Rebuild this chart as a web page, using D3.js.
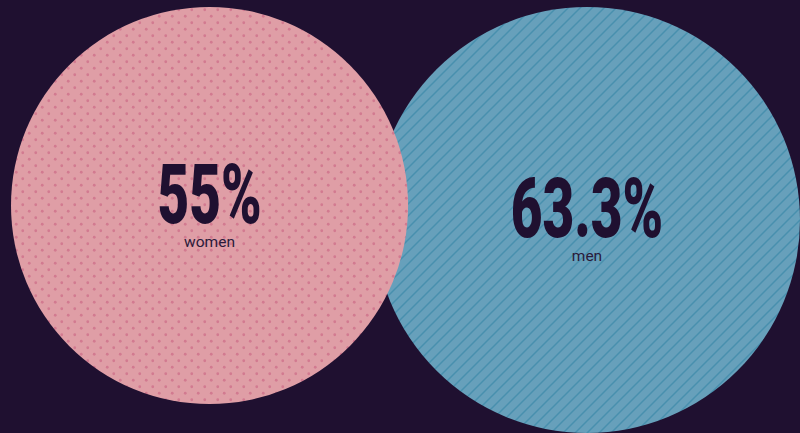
<!DOCTYPE html>
<html>
<head>
<meta charset="utf-8">
<script src="https://cdn.jsdelivr.net/npm/d3@7"></script>
<style>
  html, body { margin: 0; padding: 0; background: #1f1030; }
  svg { display: block; }
</style>
</head>
<body>
<div id="chart"></div>
<script>
(function(d3) {
// data
var categories = ["women", "men"];
var values = [55, 63.3];
var valueLabels = ["55%", "63.3%"];
var fills = ["url(#dots)", "url(#hatch)"];

var width = 800, height = 433,
    margin = {top: 7, left: 11, right: 0};

var svg = d3.select("#chart").append("svg")
    .attr("width", width)
    .attr("height", height);

svg.append("rect")
    .attr("width", width)
    .attr("height", height)
    .attr("fill", "#1f1030");

var defs = svg.append("defs");

// pink dot pattern (staggered)
var dp = 13;
var dots = defs.append("pattern")
    .attr("id", "dots")
    .attr("patternUnits", "userSpaceOnUse")
    .attr("width", dp)
    .attr("height", dp);
dots.append("rect").attr("width", dp).attr("height", dp).attr("fill", "#df9ea6");
dots.append("circle").attr("cx", dp / 4).attr("cy", dp / 4).attr("r", 1.4).attr("fill", "#d27a90");
dots.append("circle").attr("cx", dp * 3 / 4).attr("cy", dp * 3 / 4).attr("r", 1.4).attr("fill", "#d27a90");

// blue diagonal hatch, "/" direction
var hp = 12;
var hatch = defs.append("pattern")
    .attr("id", "hatch")
    .attr("patternUnits", "userSpaceOnUse")
    .attr("width", hp)
    .attr("height", hp);
hatch.append("rect").attr("width", hp).attr("height", hp).attr("fill", "#67a0bb");
hatch.append("path")
    .attr("d", "M0," + hp + " L" + hp + ",0 M-2,2 L2,-2 M" + (hp - 2) + "," + (hp + 2) + " L" + (hp + 2) + "," + (hp - 2))
    .attr("stroke", "#4890ae")
    .attr("stroke-width", 1.5);

// area-proportional radius
var r = d3.scaleSqrt()
    .domain([0, d3.max(values)])
    .range([0, 213]);

var data = categories.map(function(c, i) {
  return {name: c, value: values[i], label: valueLabels[i], fill: fills[i]};
});

// women on the left, men on the right; tops aligned
data.forEach(function(d, i) {
  var rad = r(d.value);
  d.cx = i === 0 ? margin.left + rad : width - margin.right - rad;
  d.cy = margin.top + rad;
  d.r = rad;
});

// draw men first so women sits on top
var order = data.slice().reverse();

svg.selectAll("circle.bubble")
    .data(order)
    .enter().append("circle")
    .attr("class", "bubble")
    .attr("cx", function(d) { return d.cx; })
    .attr("cy", function(d) { return d.cy; })
    .attr("r", function(d) { return d.r; })
    .attr("fill", function(d) { return d.fill; });

var labels = svg.selectAll("g.label")
    .data(order)
    .enter().append("g")
    .attr("class", "label")
    .attr("transform", function(d) { return "translate(" + d.cx + "," + d.cy + ")"; });

labels.append("text")
    .attr("transform", "translate(0,17) scale(0.66,1)")
    .attr("text-anchor", "middle")
    .attr("font-family", "Roboto, sans-serif")
    .attr("font-weight", "900")
    .attr("font-size", "83px")
    .attr("fill", "#1f1030")
    .text(function(d) { return d.label; });

labels.append("text")
    .attr("y", 41)
    .attr("text-anchor", "middle")
    .attr("font-family", "Roboto, sans-serif")
    .attr("font-size", "15.5px")
    .attr("fill", "#2a1a3a")
    .text(function(d) { return d.name; });

})(window.d3);
</script>
</body>
</html>
